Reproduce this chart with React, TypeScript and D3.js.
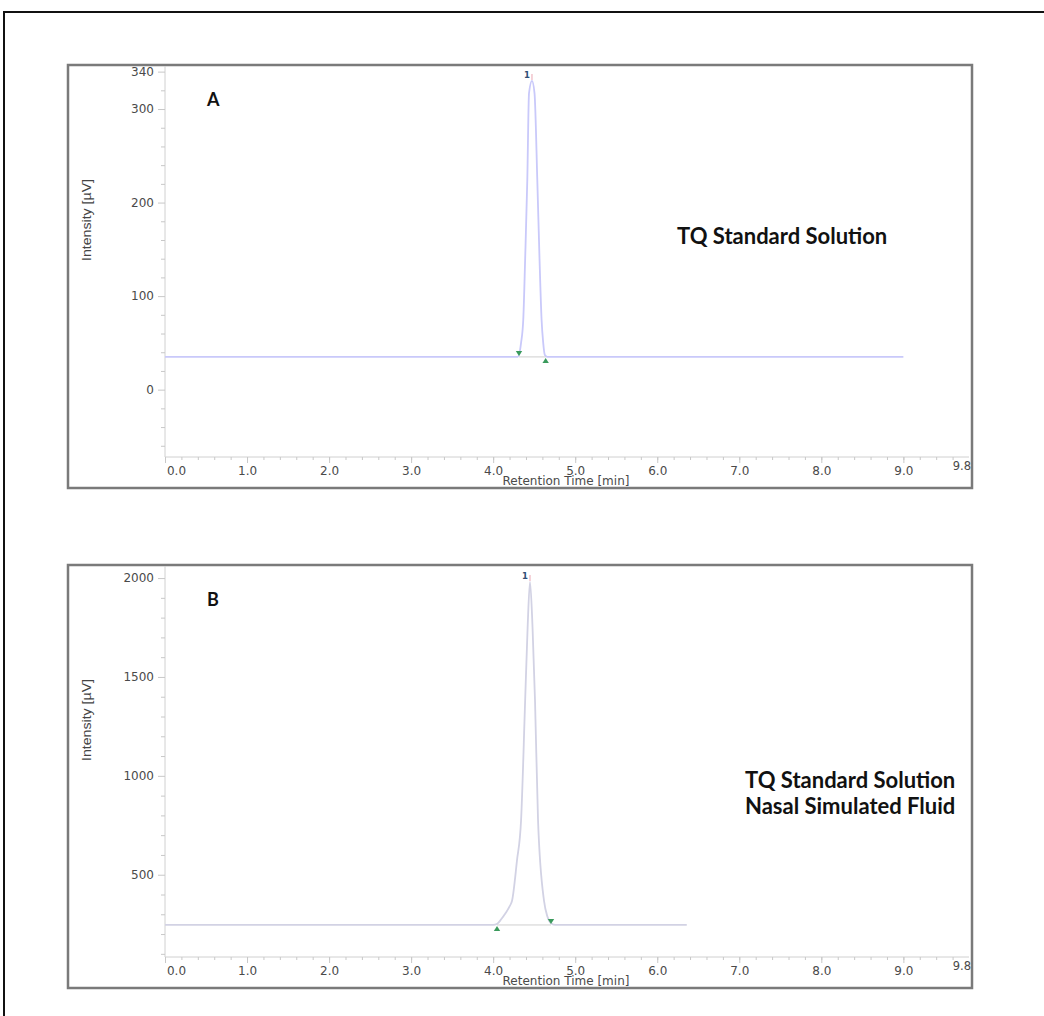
import React, { useEffect, useRef } from "react";
import * as d3 from "d3";

// x axis (retention time, min)
const timeMajorTicks = [0, 1, 2, 3, 4, 5, 6, 7, 8, 9];
const timeEnd = 9.8;

// panel A: TQ standard solution
const traceATime = [0.0, 4.3, 4.315, 4.34, 4.367, 4.39, 4.416, 4.437, 4.473, 4.504, 4.538, 4.565, 4.59, 4.61, 4.63, 4.66, 9.0];
const traceAIntensity = [35, 35, 37, 50, 75, 140, 224, 317, 330, 317, 224, 140, 75, 50, 37, 35, 35];
const peakAStart = [4.315, 35];
const peakAEnd = [4.64, 35];
const peakAApex = [4.473, 330];
const yMajorA = [0, 100, 200, 300, 340];
const yMinorA = [-60, -40, -20, 20, 40, 60, 80, 120, 140, 160, 180, 220, 240, 260, 280, 320];

// panel B: TQ standard solution in nasal simulated fluid
const traceBTime = [0.0, 4.0, 4.05, 4.1, 4.15, 4.2, 4.23, 4.29, 4.34, 4.39, 4.42, 4.449, 4.48, 4.51, 4.547, 4.62, 4.66, 4.705, 4.76, 6.36];
const traceBIntensity = [246, 246, 252, 276, 305, 340, 368, 571, 774, 1382, 1750, 1980, 1750, 1382, 774, 368, 290, 255, 246, 246];
const peakBStart = [4.047, 246];
const peakBEnd = [4.705, 246];
const peakBApex = [4.449, 1980];
const yMajorB = [500, 1000, 1500, 2000];
const yMinorB = [100, 200, 300, 400, 600, 700, 800, 900, 1100, 1200, 1300, 1400, 1600, 1700, 1800, 1900];

const panels = [
  {
    letter: "A",
    top: 65,
    yDomain: [-72, 346],
    yMajor: yMajorA,
    yMinor: yMinorA,
    time: traceATime,
    intensity: traceAIntensity,
    start: peakAStart,
    end: peakAEnd,
    apex: peakAApex,
    startUp: false,
    titles: ["TQ Standard Solution"],
    titleX: 677,
    titleY: 244,
    color: "#c9c9fa",
  },
  {
    letter: "B",
    top: 565,
    yDomain: [84, 2061],
    yMajor: yMajorB,
    yMinor: yMinorB,
    time: traceBTime,
    intensity: traceBIntensity,
    start: peakBStart,
    end: peakBEnd,
    apex: peakBApex,
    startUp: true,
    titles: ["TQ Standard Solution", "Nasal Simulated Fluid"],
    titleX: 745,
    titleY: 788,
    color: "#d2d2e4",
  },
];

const tickFont = "'DejaVu Sans', Verdana, sans-serif";
const titleFont = "Lato, Calibri, 'Open Sans', sans-serif";

const App = () => {
  const svgRef = useRef(null);

  useEffect(() => {
    const svg = d3.select(svgRef.current);
    svg.selectAll("*").remove();

    const plotLeft = 165,
      plotRight = 969,
      frameX = 68,
      frameW = 904,
      frameH = 423;

    // outer page frame
    svg
      .append("path")
      .attr("d", "M4,1016 L4,12 L1044,12")
      .attr("fill", "none")
      .attr("stroke", "#111")
      .attr("stroke-width", 2);

    const x = d3.scaleLinear().domain([0, timeEnd]).range([plotLeft, plotRight]);

    panels.forEach((p) => {
      const axisY = p.top + 392;
      const y = d3.scaleLinear().domain(p.yDomain).range([axisY, p.top + 1]);
      const g = svg.append("g");

      // panel frame
      g.append("rect")
        .attr("x", frameX)
        .attr("y", p.top)
        .attr("width", frameW)
        .attr("height", frameH)
        .attr("fill", "#fff")
        .attr("stroke", "#7a7a7a")
        .attr("stroke-width", 2.5);

      // y axis line
      g.append("line")
        .attr("x1", plotLeft)
        .attr("x2", plotLeft)
        .attr("y1", p.top + 1)
        .attr("y2", axisY)
        .attr("stroke", "#d0d0d0");

      // y minor ticks
      const yMinorG = g
        .append("g")
        .attr("transform", `translate(${plotLeft},0)`)
        .call(d3.axisLeft(y).tickValues(p.yMinor).tickSize(4).tickSizeOuter(0).tickFormat(() => ""));
      yMinorG.select(".domain").remove();
      yMinorG.selectAll("line").attr("stroke", "#c8c8c8");

      // y major ticks and labels
      const yMajorG = g
        .append("g")
        .attr("transform", `translate(${plotLeft},0)`)
        .call(d3.axisLeft(y).tickValues(p.yMajor).tickSize(7).tickSizeOuter(0).tickPadding(4).tickFormat(d3.format("d")));
      yMajorG.select(".domain").remove();
      yMajorG.selectAll("line").attr("stroke", "#c8c8c8");
      yMajorG
        .selectAll("text")
        .attr("fill", "#4a4a4a")
        .style("font-family", tickFont)
        .style("font-size", "12px");

      // x axis line
      g.append("line")
        .attr("x1", plotLeft)
        .attr("x2", plotRight)
        .attr("y1", axisY)
        .attr("y2", axisY)
        .attr("stroke", "#d0d0d0");

      // x minor ticks
      const xMinorG = g
        .append("g")
        .attr("transform", `translate(0,${axisY})`)
        .call(d3.axisBottom(x).tickValues(d3.range(0, 49).map((i) => i * 0.2)).tickSize(3).tickSizeOuter(0).tickFormat(() => ""));
      xMinorG.select(".domain").remove();
      xMinorG.selectAll("line").attr("stroke", "#c8c8c8");

      // x major ticks and labels
      const xMajorG = g
        .append("g")
        .attr("transform", `translate(0,${axisY})`)
        .call(d3.axisBottom(x).tickValues(timeMajorTicks).tickSize(6).tickSizeOuter(0).tickPadding(3).tickFormat(d3.format(".1f")));
      xMajorG.select(".domain").remove();
      xMajorG.selectAll("line").attr("stroke", "#c8c8c8");
      xMajorG
        .selectAll("text")
        .attr("fill", "#4a4a4a")
        .attr("dx", (d) => (d === 0 ? 11 : 0))
        .style("font-family", tickFont)
        .style("font-size", "12px");

      // axis end label
      g.append("text")
        .attr("x", x(timeEnd) + 2)
        .attr("y", axisY + 13)
        .attr("text-anchor", "end")
        .attr("fill", "#4a4a4a")
        .style("font-family", tickFont)
        .style("font-size", "11.5px")
        .text(timeEnd.toFixed(1));

      // axis titles
      g.append("text")
        .attr("x", 566)
        .attr("y", axisY + 28)
        .attr("text-anchor", "middle")
        .attr("fill", "#4a4a4a")
        .style("font-family", tickFont)
        .style("font-size", "12px")
        .text("Retention Time [min]");

      g.append("text")
        .attr("transform", `translate(91,${p.top + 155}) rotate(-90)`)
        .attr("text-anchor", "middle")
        .attr("fill", "#444")
        .attr("textLength", 82)
        .attr("lengthAdjust", "spacingAndGlyphs")
        .style("font-family", "'Liberation Sans Narrow', 'Arial Narrow', 'Liberation Sans', sans-serif")
        .style("font-size", "12.5px")
        .text("Intensity [µV]");

      // chromatogram trace
      const pts = p.time.map((t, i) => [t, p.intensity[i]]);
      const line = d3
        .line()
        .x((d) => x(d[0]))
        .y((d) => y(d[1]))
        .curve(d3.curveMonotoneX);
      g.append("path")
        .datum(pts)
        .attr("d", line)
        .attr("fill", "none")
        .attr("stroke", p.color)
        .attr("stroke-width", 1.8);

      // integration baseline between peak markers
      g.append("line")
        .attr("x1", x(p.start[0]))
        .attr("x2", x(p.end[0]))
        .attr("y1", y(p.start[1]))
        .attr("y2", y(p.end[1]))
        .attr("stroke", "#cfcfcf")
        .attr("stroke-width", 1);

      // peak start / end markers
      const tri = (cx, cy, up) =>
        up
          ? `M${cx},${cy + 1} L${cx + 3.2},${cy + 6} L${cx - 3.2},${cy + 6} Z`
          : `M${cx},${cy - 1} L${cx + 3.2},${cy - 6} L${cx - 3.2},${cy - 6} Z`;
      g.append("path")
        .attr("d", tri(x(p.start[0]), y(p.start[1]), p.startUp))
        .attr("fill", "#3a9a5c");
      g.append("path")
        .attr("d", tri(x(p.end[0]), y(p.end[1]), !p.startUp))
        .attr("fill", "#3a9a5c");

      // apex marker and peak number
      const ax = x(p.apex[0]),
        ay = y(p.apex[1]);
      g.append("line")
        .attr("x1", ax)
        .attr("x2", ax)
        .attr("y1", ay - 7)
        .attr("y2", ay - 1)
        .attr("stroke", "#f2c4cc")
        .attr("stroke-width", 1.5);
      g.append("text")
        .attr("x", ax - 5)
        .attr("y", ay - 3)
        .attr("text-anchor", "middle")
        .attr("fill", "#2f4e74")
        .style("font-family", tickFont)
        .style("font-size", "8.5px")
        .style("font-weight", "bold")
        .text("1");

      // panel letter and sample titles
      g.append("text")
        .attr("x", 207)
        .attr("y", p.top + 41)
        .attr("fill", "#111")
        .style("font-family", titleFont)
        .style("font-size", "18px")
        .style("font-weight", "bold")
        .text(p.letter);

      p.titles.forEach((t, i) => {
        g.append("text")
          .attr("x", p.titleX)
          .attr("y", p.titleY + i * 26)
          .attr("fill", "#111")
          .style("font-family", titleFont)
          .style("font-size", "22px")
          .style("font-weight", "bold")
          .text(t);
      });
    });
  }, []);

  return (
    <div style={{ position: "absolute", left: 0, top: 0, background: "#fff" }}>
      <svg ref={svgRef} width={1044} height={1016} style={{ display: "block" }}></svg>
    </div>
  );
};

export default App;
